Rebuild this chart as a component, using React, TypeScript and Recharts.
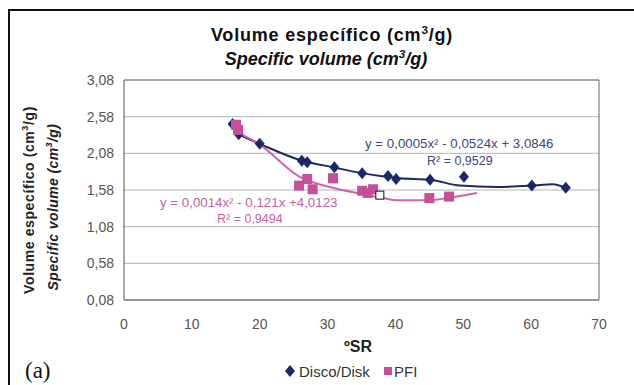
import { ComposedChart, Scatter, Line, XAxis, YAxis, CartesianGrid, ReferenceLine } from "recharts";

const X_TICKS = [0, 10, 20, 30, 40, 50, 60, 70];
const Y_TICKS = [0.08, 0.58, 1.08, 1.58, 2.08, 2.58, 3.08];

// Disco/Disk measurements (ºSR, cm3/g)
const discoX = [16, 16.9, 20, 26.2, 27, 31, 35.1, 38.9, 40.1, 45.1, 50.1, 60.1, 65.1];
const discoY = [2.48, 2.34, 2.21, 1.98, 1.96, 1.89, 1.81, 1.77, 1.73, 1.72, 1.76, 1.64, 1.61];

// PFI measurements
const pfiX = [16.5, 16.8, 25.8, 27, 27.8, 30.8, 35.1, 35.9, 36.7, 45.0, 47.9];
const pfiY = [2.47, 2.4, 1.64, 1.73, 1.59, 1.74, 1.57, 1.54, 1.59, 1.47, 1.49];

// stray open marker in the original figure
const strayX = [37.7];
const strayY = [1.51];

// polynomial trendlines as drawn
const discoTrendX = [16.1, 20, 25.9, 30.8, 35.1, 40.7, 45.1, 49.5, 55, 60.1, 63.2, 65.1];
const discoTrendY = [2.37, 2.21, 1.99, 1.89, 1.81, 1.74, 1.72, 1.64, 1.62, 1.64, 1.66, 1.61];
const pfiTrendX = [16.6, 19.7, 25.9, 30.8, 34.8, 38.2, 40.2, 45.1, 47.6, 52];
const pfiTrendY = [2.37, 2.22, 1.76, 1.61, 1.53, 1.47, 1.44, 1.44, 1.47, 1.54];

const zip = (xs: number[], ys: number[]) => xs.map((x, i) => ({ x, y: ys[i] }));

const NAVY = "#1b2868";
const PINK = "#c64f97";
const FONT = "'Liberation Sans', Arial, sans-serif";

const Diamond = (p: any) => (
  <path d={`M${p.cx},${p.cy - 6}L${p.cx + 5},${p.cy}L${p.cx},${p.cy + 6}L${p.cx - 5},${p.cy}Z`} fill={NAVY} />
);
const Square = (p: any) => <rect x={p.cx - 5} y={p.cy - 5} width={10} height={10} fill={PINK} />;
const OpenSquare = (p: any) => (
  <rect x={p.cx - 4} y={p.cy - 4} width={8} height={8} fill="#fff" stroke="#111" strokeWidth={1} />
);

const fmt = (v: number) => v.toFixed(2).replace(".", ",");

// "(cm3/g)" with a raised 3
const Unit = ({ size }: { size: number }) => (
  <>
    {" (cm"}
    <tspan dy={-size * 0.4} fontSize={size * 0.65}>3</tspan>
    <tspan dy={size * 0.4}>/g)</tspan>
  </>
);

export default function App() {
  return (
    <div style={{ position: "absolute", left: 0, top: 0, width: 634, height: 385, background: "#fff", fontFamily: FONT }}>
      <ComposedChart width={634} height={385} margin={{ top: 80, right: 35, bottom: 55, left: 64 }}>
        <CartesianGrid vertical={false} stroke="#b4b4b4" />
        <XAxis
          dataKey="x"
          type="number"
          domain={[0, 70]}
          ticks={X_TICKS}
          height={30}
          tickLine={false}
          tickMargin={13}
          axisLine={{ stroke: "#555" }}
          tick={{ fontSize: 14, fill: "#555", fontFamily: FONT }}
        />
        <YAxis
          dataKey="y"
          type="number"
          domain={[0.08, 3.08]}
          ticks={Y_TICKS}
          width={60}
          tickLine={false}
          tickMargin={4}
          tickFormatter={fmt}
          axisLine={{ stroke: "#555" }}
          tick={{ fontSize: 14, fill: "#555", fontFamily: FONT }}
        />
        <ReferenceLine x={70} stroke="#666" />
        <ReferenceLine y={3.08} stroke="#777" />
        <Line data={zip(discoTrendX, discoTrendY)} dataKey="y" type="monotone" stroke={NAVY} strokeWidth={2} dot={false} isAnimationActive={false} />
        <Line data={zip(pfiTrendX, pfiTrendY)} dataKey="y" type="monotone" stroke="#d462a8" strokeWidth={2} dot={false} isAnimationActive={false} />
        <Scatter data={zip(discoX, discoY)} dataKey="y" shape={Diamond} isAnimationActive={false} />
        <Scatter data={zip(pfiX, pfiY)} dataKey="y" shape={Square} isAnimationActive={false} />
        <Scatter data={zip(strayX, strayY)} dataKey="y" shape={OpenSquare} isAnimationActive={false} />
      </ComposedChart>

      <svg width={634} height={385} style={{ position: "absolute", left: 0, top: 0, pointerEvents: "none" }} fontFamily={FONT}>
        <path d="M9,385L9,10L634,10" fill="none" stroke="#111" strokeWidth={2} />
        <text x={332} y={41} textAnchor="middle" fontSize={18} fontWeight="bold" letterSpacing={0.8} fill="#111">
          Volume específico<Unit size={18} />
        </text>
        <text x={326} y={65} textAnchor="middle" fontSize={18} fontWeight="bold" fontStyle="italic" fill="#111">
          Specific volume<Unit size={18} />
        </text>
        <text transform="translate(34,200) rotate(-90)" textAnchor="middle" fontSize={14} fontWeight="bold" letterSpacing={0.6} fill="#222">
          Volume específico<Unit size={14} />
        </text>
        <text transform="translate(58,207) rotate(-90)" textAnchor="middle" fontSize={14} fontWeight="bold" fontStyle="italic" letterSpacing={0.4} fill="#222">
          Specific volume<Unit size={14} />
        </text>
        <text x={358} y={352} textAnchor="middle" fontSize={16} fontWeight="bold" fill="#222">ºSR</text>

        <text x={365} y={148} fontSize={13.3} fill="#3c4878">y = 0,0005x² - 0,0524x + 3,0846</text>
        <text x={427} y={165} fontSize={12.5} fill="#3c4878">R² = 0,9529</text>
        <text x={160} y={207} fontSize={13.3} fill="#c462a0">y = 0,0014x² - 0,121x +4,0123</text>
        <text x={217} y={223} fontSize={12.5} fill="#c462a0">R² = 0,9494</text>

        <path d="M290,365L295,371L290,377L285,371Z" fill={NAVY} />
        <text x={299} y={377} fontSize={15} fill="#333">Disco/Disk</text>
        <rect x={384} y={367} width={8} height={8} fill={PINK} />
        <text x={394} y={377} fontSize={15} fill="#333">PFI</text>

        <text x={25} y={378} fontSize={23} fontFamily="'Liberation Serif', 'Times New Roman', serif" fill="#111">(a)</text>
      </svg>
    </div>
  );
}
